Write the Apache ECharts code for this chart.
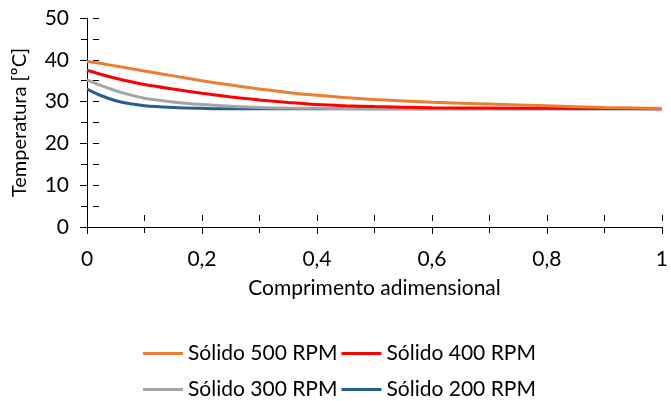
<!DOCTYPE html>
<html>
<head>
<meta charset="utf-8">
<script src="https://cdn.jsdelivr.net/npm/echarts@6/dist/echarts.min.js"></script>
<style>
  html, body { margin: 0; padding: 0; background: #fff; }
  #chart { width: 671px; height: 401px; }
</style>
</head>
<body>
<div id="chart"></div>
<script>
// posicoes ao longo do comprimento adimensional
var xs = [0, 0.025, 0.05, 0.075, 0.1, 0.15, 0.2, 0.25, 0.3, 0.35, 0.4, 0.45, 0.5, 0.6, 0.7, 0.8, 0.9, 1];

// temperaturas [ºC]
var rpm500 = [39.6, 39.1, 38.5, 37.9, 37.3, 36.15, 35.0, 33.95, 33.0, 32.2, 31.5, 30.95, 30.5, 29.85, 29.4, 29.0, 28.6, 28.35];
var rpm400 = [37.5, 36.5, 35.6, 34.8, 34.1, 33.0, 32.0, 31.1, 30.4, 29.8, 29.3, 29.0, 28.8, 28.55, 28.45, 28.4, 28.35, 28.3];
var rpm300 = [35.2, 33.8, 32.6, 31.6, 30.8, 29.9, 29.3, 28.9, 28.6, 28.45, 28.4, 28.35, 28.3, 28.3, 28.3, 28.3, 28.3, 28.3];
var rpm200 = [33.0, 31.4, 30.2, 29.5, 29.0, 28.6, 28.4, 28.3, 28.3, 28.3, 28.3, 28.3, 28.3, 28.3, 28.3, 28.3, 28.3, 28.3];

var names = ['Sólido 500 RPM', 'Sólido 400 RPM', 'Sólido 300 RPM', 'Sólido 200 RPM'];
var colors = ['#ED7D31', '#FF0000', '#A5A5A5', '#255E91'];
var yTicks = [0, 10, 20, 30, 40, 50];

var font = 'Lato';

function pairs(vals) {
    var out = [];
    for (var i = 0; i < xs.length; i++) {
        out.push([xs[i], vals[i]]);
    }
    return out;
}

var tickLine = { color: '#000', width: 1 };
var noLine = { color: 'rgba(0,0,0,0)', width: 1 };

function legendRow(items, top) {
    return {
        data: items,
        top: top,
        left: 138,
        icon: 'rect',
        itemWidth: 40,
        itemHeight: 3,
        itemGap: 4,
        textStyle: { fontSize: 21, color: '#000', fontFamily: font }
    };
}

var option = {
    animation: false,
    textStyle: { fontFamily: font },
    grid: { left: 87, right: 7, top: 18, bottom: 174 },
    legend: [legendRow(names.slice(0, 2), 338), legendRow(names.slice(2, 4), 374)],
    xAxis: [{
        type: 'value',
        min: 0,
        max: 1,
        interval: 0.2,
        name: 'Comprimento adimensional',
        nameLocation: 'middle',
        nameGap: 51,
        nameTextStyle: { fontSize: 21, color: '#000' },
        axisLine: { show: true, onZero: false, lineStyle: tickLine },
        axisTick: { show: true, length: 7, lineStyle: tickLine },
        minorTick: { show: true, splitNumber: 2, length: 6, lineStyle: tickLine },
        splitLine: { show: false },
        axisLabel: {
            fontSize: 21, color: '#000', margin: 22,
            formatter: function (v) { return String(v).replace('.', ','); }
        }
    }, {
        // metade interna dos ticks do eixo x
        type: 'value',
        min: 0,
        max: 1,
        interval: 0.2,
        position: 'top',
        offset: -6,
        axisLine: { show: true, lineStyle: noLine },
        axisTick: { show: true, length: 6, lineStyle: tickLine },
        minorTick: { show: true, splitNumber: 2, length: 6, lineStyle: tickLine },
        splitLine: { show: false },
        axisLabel: { show: false }
    }],
    yAxis: [{
        type: 'value',
        min: yTicks[0],
        max: yTicks[yTicks.length - 1],
        interval: 10,
        name: 'Temperatura [ºC]',
        nameLocation: 'middle',
        nameGap: 57,
        nameTextStyle: { fontSize: 20, color: '#000' },
        axisLine: { show: true, onZero: false, lineStyle: tickLine },
        axisTick: { show: true, length: 7, lineStyle: tickLine },
        minorTick: { show: true, splitNumber: 2, length: 6, lineStyle: tickLine },
        splitLine: { show: false },
        axisLabel: { fontSize: 21, color: '#000', margin: 18 }
    }, {
        // metade interna dos ticks do eixo y
        type: 'value',
        min: yTicks[0],
        max: yTicks[yTicks.length - 1],
        interval: 10,
        position: 'right',
        offset: -6,
        axisLine: { show: true, lineStyle: noLine },
        axisTick: { show: true, length: 6, lineStyle: tickLine },
        minorTick: { show: true, splitNumber: 2, length: 6, lineStyle: tickLine },
        splitLine: { show: false },
        axisLabel: { show: false }
    }],
    series: [rpm500, rpm400, rpm300, rpm200].map(function (vals, i) {
        return {
            name: names[i],
            type: 'line',
            xAxisIndex: 0,
            yAxisIndex: 0,
            data: pairs(vals),
            smooth: 0.4,
            showSymbol: false,
            symbol: 'none',
            color: colors[i],
            lineStyle: { width: 3, color: colors[i] },
            z: 10 - i
        };
    })
};

echarts.init(document.getElementById('chart')).setOption(option);
</script>
</body>
</html>
